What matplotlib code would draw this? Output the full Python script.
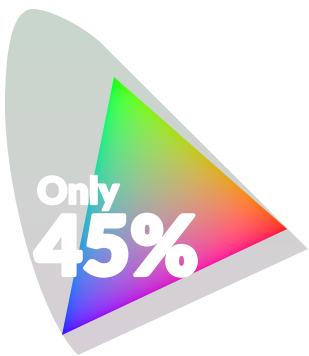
import numpy as np
import matplotlib
matplotlib.use('Agg')
import matplotlib.pyplot as plt
import matplotlib.patheffects as pe
from matplotlib.colors import to_rgb
from matplotlib.patches import Polygon, PathPatch
from matplotlib.path import Path

# outline of the chromaticity diagram (anchor and bezier control points),
# in picture pixels: purple line, left curve, top curve, straight right edge
locus_x = [308, 78, 40, 5, 5, 5, 12, 33, 48, 80, 100, 308]
locus_y = [249, 355, 318, 190, 105, 50, 9, 9, 9, 24, 42, 249]
locus_codes = [Path.MOVETO, Path.LINETO,
               Path.CURVE4, Path.CURVE4, Path.CURVE4,
               Path.CURVE4, Path.CURVE4, Path.CURVE4,
               Path.CURVE4, Path.CURVE4, Path.CURVE4,
               Path.CLOSEPOLY]
locus_colors = ['#c8d7cc', '#d8cfd6']  # top, bottom

# display gamut triangle: green, red, blue primaries
gamut_x = [114, 287, 62]
gamut_y = [77, 229, 335]
gamut_colors = ['#00f500', '#ff0a0a', '#1e00f5']

label_small = 'Only'
label_big = '45%'

W, H = 309, 356


def draw():
    fig = plt.figure(figsize=(W / 100, H / 100), dpi=100)
    ax = fig.add_axes([0, 0, 1, 1])
    ax.set_xlim(0, W)
    ax.set_ylim(H, 0)
    ax.axis('off')

    xx, yy = np.meshgrid(np.arange(W) + 0.5, np.arange(H) + 0.5)

    # horseshoe with a soft top-to-bottom tint
    top, bot = np.array(to_rgb(locus_colors[0])), np.array(to_rgb(locus_colors[1]))
    t = (yy / H)[..., None]
    bg = top * (1 - t) + bot * t
    shape = PathPatch(Path(np.column_stack([locus_x, locus_y]), locus_codes),
                      facecolor='none', edgecolor='none')
    ax.add_patch(shape)
    im = ax.imshow(bg, extent=(0, W, H, 0), interpolation='bilinear')
    im.set_clip_path(shape)

    # gamut triangle, blended from the three primaries
    (xa, xb, xc), (ya, yb, yc) = gamut_x, gamut_y
    den = (yb - yc) * (xa - xc) + (xc - xb) * (ya - yc)
    wa = ((yb - yc) * (xx - xc) + (xc - xb) * (yy - yc)) / den
    wb = ((yc - ya) * (xx - xc) + (xa - xc) * (yy - yc)) / den
    wc = 1 - wa - wb
    w = np.clip(np.stack([wa, wb, wc], axis=-1), 0, 1) ** 0.5
    cols = np.array([to_rgb(c) for c in gamut_colors])
    rgb = np.clip(1.1 * (w @ cols), 0, 1)
    tri = Polygon(np.column_stack([gamut_x, gamut_y]), closed=True,
                  facecolor='none', edgecolor='none')
    ax.add_patch(tri)
    im2 = ax.imshow(rgb, extent=(0, W, H, 0), interpolation='bilinear')
    im2.set_clip_path(tri)

    fat = [pe.withStroke(linewidth=1.6, foreground='white')]
    fatter = [pe.withStroke(linewidth=3, foreground='white')]
    ax.text(37, 204, label_small, color='white', fontsize=27,
            fontweight='heavy', family=['Lato', 'DejaVu Sans'],
            va='baseline', path_effects=fat)
    ax.text(35, 275, label_big, color='white', fontsize=59,
            fontweight='heavy', family=['Lato', 'DejaVu Sans'],
            va='baseline', path_effects=fatter)

    fig.savefig('out.png', dpi=100)


if __name__ == '__main__':
    draw()
